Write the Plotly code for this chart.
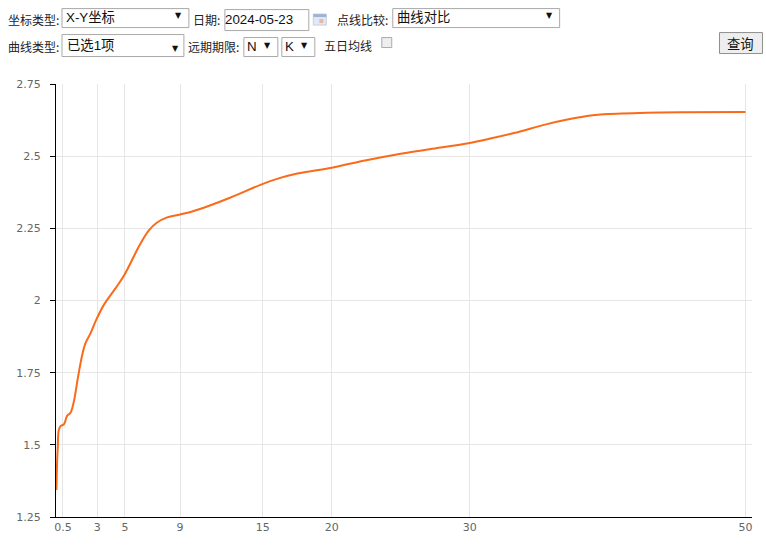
import plotly.graph_objects as go

W, H = 766, 545
L, R, T, B = 55.5, 752, 84, 517.5

term = [0.03, 0.08, 0.13, 0.2, 0.33, 0.57, 0.81, 1.05, 1.29, 1.58, 1.9, 2.14, 2.5, 2.86, 3.46, 4.31, 4.91,
        5.4, 6.0, 6.72, 7.33, 8.06, 9, 9.98, 11.2, 12.66, 15, 16.14, 17.5, 20, 22.5, 24.7, 27.1, 29.9, 31.5, 33.2,
        35.6, 37.0, 38.5, 39.7, 42.8, 45.3, 50]
yields = [1.3435, 1.44, 1.4935, 1.551, 1.565, 1.571, 1.601, 1.611, 1.649, 1.73, 1.811, 1.852, 1.886, 1.927, 1.984,
          2.042, 2.085, 2.129, 2.186, 2.242, 2.27, 2.288, 2.298, 2.31, 2.33, 2.357, 2.404, 2.423, 2.44, 2.46,
          2.486, 2.506, 2.524, 2.545, 2.561, 2.58, 2.611, 2.626, 2.639, 2.645, 2.65, 2.652, 2.653]
x_ticks = [0.5, 3, 5, 9, 15, 20, 30, 50]
y_ticks = [1.25, 1.5, 1.75, 2, 2.25, 2.5, 2.75]
y_labels = ["1.25", "1.5", "1.75", "2", "2.25", "2.5", "2.75"]

# form labels: text, left px, centre-y px
labels = [("坐标类型:", 7, 19), ("日期:", 193, 19), ("点线比较:", 337, 19),
          ("曲线类型:", 7, 46), ("远期期限:", 188, 46), ("五日均线", 324, 45)]
# boxes: left, top, right, bottom, text, text-left, arrow-x, arrow-y
boxes = [(61, 8, 188, 27, "X-Y坐标", 66, 178, 15.5), (224, 9, 308, 30, "2024-05-23", 225, None, None),
         (392, 8, 559, 27, "曲线对比", 397, 549, 15.5), (61, 34, 183, 56, "已选1项", 67, 175, 48),
         (243, 37, 277, 56, "N", 247, 267, 45.5), (281, 37, 314, 56, "K", 285, 304, 45.5)]

fig = go.Figure(go.Scatter(x=term, y=yields, mode="lines",
                           line=dict(color="#fb6a18", width=2, shape="spline", smoothing=1.0),
                           hoverinfo="skip"))


def px(x):
    return (x - L) / (R - L)


def py(y):
    return (B - y) / (B - T)


def rect(x0, y0, x1, y1, line, fill, lw=1):
    return dict(type="rect", xref="paper", yref="paper", x0=px(x0), x1=px(x1), y0=py(y0), y1=py(y1),
                line=dict(color=line, width=lw), fillcolor=fill)


shapes = []
annots = []
for text, x, y in labels:
    annots.append(dict(text=text, x=px(x), y=py(y), xref="paper", yref="paper", xanchor="left", yanchor="middle",
                       borderpad=0, borderwidth=0, showarrow=False,
                       font=dict(size=12, color="#222", family="Noto Sans CJK SC")))
for x0, y0, x1, y1, text, tx, ax, ay in boxes:
    shapes.append(rect(x0 + .5, y0 + .5, x1 + .5, y1 + .5, "#a9a9a9", "white"))
    annots.append(dict(text=text, x=px(tx), y=py((y0 + y1) / 2), xref="paper", yref="paper", xanchor="left",
                       yanchor="middle", borderpad=0, borderwidth=0, showarrow=False,
                       font=dict(size=13.33, color="#111", family="Liberation Sans, Noto Sans CJK SC")))
    if ax is not None:
        annots.append(dict(text="▼", x=px(ax), y=py(ay), xref="paper", yref="paper", xanchor="center",
                           yanchor="middle", showarrow=False, font=dict(size=8, color="#111", family="DejaVu Sans")))

# checkbox
shapes.append(rect(381.5, 37.5, 391.5, 47.5, "#aaa", "#eeeeee"))
# query button
shapes.append(rect(719.5, 32.5, 762.5, 53.5, "#8f8f8f", "#eeeeee"))
annots.append(dict(text="查询", x=px(740.5), y=py(43), xref="paper", yref="paper", showarrow=False, xanchor="center",
                   yanchor="middle", font=dict(size=13.33, color="#111", family="Noto Sans CJK SC")))
# calendar icon
shapes.append(rect(313, 14, 326, 25, "#c3cfe2", "#e3e9f4"))
shapes.append(rect(313, 14, 326, 17, "#9db4d6", "#9db4d6", 0))
shapes.append(rect(319, 19, 323, 23, "#e5b8a8", "#e5b8a8", 0))

fig.update_layout(
    width=W, height=H, autosize=False, paper_bgcolor="white", plot_bgcolor="white", showlegend=False,
    margin=dict(l=L, r=W - R, t=T, b=H - B),
    shapes=shapes, annotations=annots,
    xaxis=dict(range=[0, 50.47], tickvals=x_ticks, ticktext=[str(v) for v in x_ticks], showgrid=True,
               gridcolor="#e6e6e6", gridwidth=1, zeroline=False, showline=True, linecolor="#000", linewidth=1,
               ticks="", tickfont=dict(size=11, color="#666", family="DejaVu Sans"), fixedrange=True),
    yaxis=dict(range=[1.25, 2.75], tickvals=y_ticks, ticktext=[s + "\u00a0\u00a0" for s in y_labels], showgrid=True,
               gridcolor="#e6e6e6", gridwidth=1, zeroline=False, showline=True, linecolor="#000", linewidth=1,
               ticks="outside", ticklen=5, tickcolor="#000", tickwidth=1,
               tickfont=dict(size=11, color="#666", family="DejaVu Sans"), fixedrange=True),
)
fig.write_html("out.html", config=dict(displayModeBar=False),
               post_script="document.body.style.margin='0';document.documentElement.style.overflow='hidden';")
